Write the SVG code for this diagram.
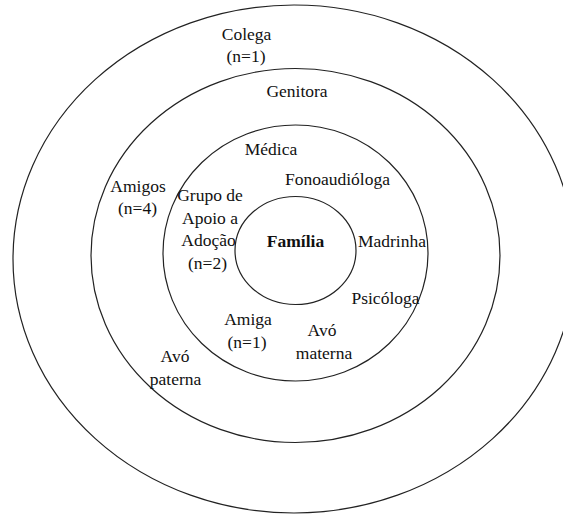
<svg xmlns="http://www.w3.org/2000/svg" width="563" height="514" viewBox="0 0 563 514">
  <style>
    .ring { fill: none; stroke: #222; stroke-width: 1.2; }
    text { font-family: "Liberation Serif", "Times New Roman", serif; font-size: 17.5px; fill: #111; text-anchor: middle; }
    .bold { font-weight: bold; }
  </style>
  <rect x="0" y="0" width="563" height="514" fill="#fff"/>
  <g id="ring-outer"><ellipse class="ring" cx="294" cy="259" rx="281" ry="254"/></g>
  <g id="ring-second"><ellipse class="ring" cx="295.5" cy="255.5" rx="204.5" ry="187"/></g>
  <g id="ring-third"><ellipse class="ring" cx="295.5" cy="253" rx="132.5" ry="128"/></g>
  <g id="ring-inner"><ellipse class="ring" cx="295.5" cy="250.5" rx="60.5" ry="54"/></g>
  <g id="connectors"></g>
  <g id="familia"><text class="bold" x="295.5" y="246.5">Família</text></g>
  <g id="colega"><text x="246.5" y="39.5">Colega</text><text x="246" y="62">(n=1)</text></g>
  <g id="genitora"><text x="297" y="97">Genitora</text></g>
  <g id="medica"><text x="271" y="155">Médica</text></g>
  <g id="fonoaudiologa"><text x="337.5" y="184.5">Fonoaudióloga</text></g>
  <g id="amigos"><text x="138" y="191.5">Amigos</text><text x="137.5" y="214">(n=4)</text></g>
  <g id="grupo-apoio"><text x="210" y="201">Grupo de</text><text x="210" y="223.5">Apoio a</text><text x="208.5" y="246">Adoção</text><text x="207.5" y="268.5">(n=2)</text></g>
  <g id="madrinha"><text x="392" y="246.5">Madrinha</text></g>
  <g id="psicologa"><text x="385.5" y="303.5">Psicóloga</text></g>
  <g id="amiga"><text x="248" y="325">Amiga</text><text x="247" y="347.5">(n=1)</text></g>
  <g id="avo-materna"><text x="322" y="336">Avó</text><text x="324" y="358.5">materna</text></g>
  <g id="avo-paterna"><text x="175" y="362">Avó</text><text x="175.5" y="384.5">paterna</text></g>
</svg>
